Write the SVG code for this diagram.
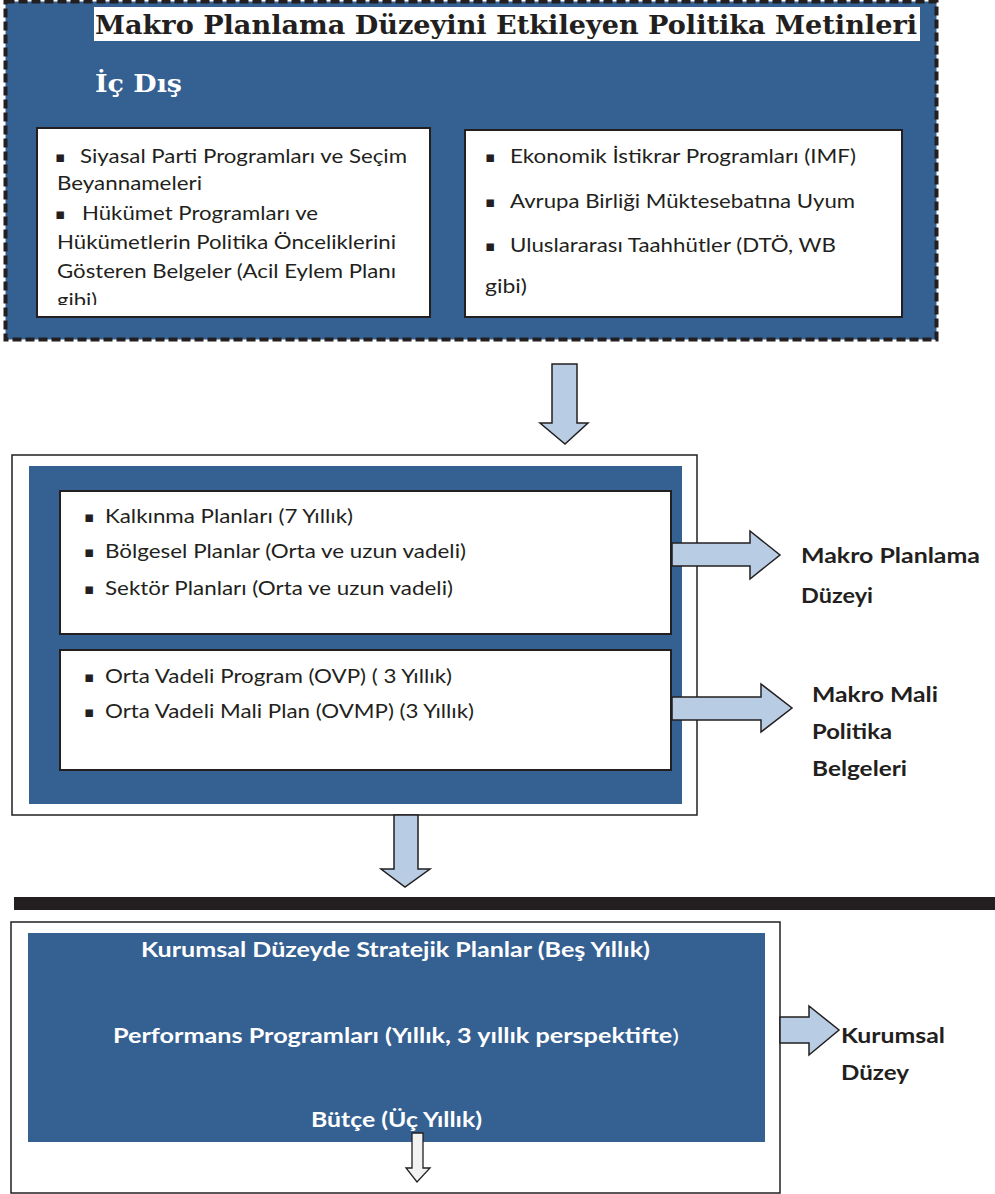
<svg xmlns="http://www.w3.org/2000/svg" width="995" height="1194" viewBox="0 0 995 1194">
<defs>
<style>
.blue{fill:#356092}
.wbox{fill:#ffffff;stroke:#231f20;stroke-width:2}
.obox{fill:#ffffff;stroke:#231f20;stroke-width:1.5}
.arr{fill:#b8cce4;stroke:#231f20;stroke-width:1.5;stroke-linejoin:miter}
.arrw{fill:#f2f2f2;stroke:#231f20;stroke-width:1.3}
.t{font-family:Lato,"Open Sans","Liberation Sans",sans-serif;font-size:20px;fill:#231f20}
.tb{font-family:Lato,"Open Sans","Liberation Sans",sans-serif;font-size:21px;font-weight:bold;fill:#231f20}
.tw{font-family:Lato,"Open Sans","Liberation Sans",sans-serif;font-size:20px;font-weight:bold;fill:#ffffff}
.bul{font-family:"DejaVu Sans",sans-serif;font-size:15px;fill:#231f20}
.ser{font-family:"DejaVu Serif","Liberation Serif",serif;font-weight:bold}
</style>
<clipPath id="clipL"><rect x="38" y="129" width="391" height="176"/></clipPath>
</defs>

<g id="top-frame">
<rect x="5.5" y="1.5" width="931" height="338" class="blue" stroke="#231f20" stroke-width="4" stroke-dasharray="9 4"/>
<rect x="94" y="7" width="826" height="34" fill="#ffffff"/>
<text x="95" y="34" class="ser" font-size="26" fill="#231f20" textLength="822" lengthAdjust="spacingAndGlyphs">Makro Planlama Düzeyini Etkileyen Politika Metinleri</text>
<text x="95" y="92" class="ser" font-size="25" fill="#ffffff" textLength="87" lengthAdjust="spacingAndGlyphs">İç Dış</text>
</g>

<g id="ic-box">
<rect x="37" y="128" width="393" height="189" class="wbox"/>
<g clip-path="url(#clipL)">
<text x="55" y="162" class="bul">▪</text>
<text x="80" y="163" class="t" textLength="327" lengthAdjust="spacingAndGlyphs">Siyasal Parti Programları ve Seçim</text>
<text x="57" y="190" class="t" textLength="145" lengthAdjust="spacingAndGlyphs">Beyannameleri</text>
<text x="55" y="219" class="bul">▪</text>
<text x="82" y="220" class="t" textLength="236" lengthAdjust="spacingAndGlyphs">Hükümet Programları ve</text>
<text x="57" y="249" class="t" textLength="339" lengthAdjust="spacingAndGlyphs">Hükümetlerin Politika Önceliklerini</text>
<text x="57" y="278" class="t" textLength="339" lengthAdjust="spacingAndGlyphs">Gösteren Belgeler (Acil Eylem Planı</text>
<text x="57" y="307" class="t" textLength="40" lengthAdjust="spacingAndGlyphs">gibi)</text>
</g>
</g>

<g id="dis-box">
<rect x="465" y="130" width="437" height="187" class="wbox"/>
<text x="485" y="162" class="bul">▪</text>
<text x="510" y="163" class="t" textLength="346" lengthAdjust="spacingAndGlyphs">Ekonomik İstikrar Programları (IMF)</text>
<text x="485" y="207" class="bul">▪</text>
<text x="510" y="208" class="t" textLength="345" lengthAdjust="spacingAndGlyphs">Avrupa Birliği Müktesebatına Uyum</text>
<text x="485" y="251" class="bul">▪</text>
<text x="510" y="252" class="t" textLength="326" lengthAdjust="spacingAndGlyphs">Uluslararası Taahhütler (DTÖ, WB</text>
<text x="485" y="293" class="t" textLength="42" lengthAdjust="spacingAndGlyphs">gibi)</text>
</g>

<g id="makro-frame">
<rect x="12" y="455" width="685" height="360" class="obox"/>
<rect x="29" y="466" width="653" height="338" class="blue"/>
</g>

<g id="makro-planlama-box">
<rect x="60" y="491" width="611" height="143" class="wbox"/>
<text x="84" y="522" class="bul">▪</text>
<text x="105" y="523" class="t" textLength="248" lengthAdjust="spacingAndGlyphs">Kalkınma Planları (7 Yıllık)</text>
<text x="84" y="557" class="bul">▪</text>
<text x="105" y="558" class="t" textLength="361" lengthAdjust="spacingAndGlyphs">Bölgesel Planlar (Orta ve uzun vadeli)</text>
<text x="84" y="594" class="bul">▪</text>
<text x="105" y="595" class="t" textLength="348" lengthAdjust="spacingAndGlyphs">Sektör Planları (Orta ve uzun vadeli)</text>
</g>

<g id="makro-mali-box">
<rect x="60" y="650" width="611" height="120" class="wbox"/>
<text x="84" y="682" class="bul">▪</text>
<text x="105" y="683" class="t" textLength="347" lengthAdjust="spacingAndGlyphs">Orta Vadeli Program (OVP) ( 3 Yıllık)</text>
<text x="84" y="717" class="bul">▪</text>
<text x="105" y="718" class="t" textLength="369" lengthAdjust="spacingAndGlyphs">Orta Vadeli Mali Plan (OVMP) (3 Yıllık)</text>
</g>

<g id="label-makro-planlama">
<text x="801" y="563" class="tb" textLength="179" lengthAdjust="spacingAndGlyphs">Makro Planlama</text>
<text x="801" y="603" class="tb" textLength="72" lengthAdjust="spacingAndGlyphs">Düzeyi</text>
</g>

<g id="label-makro-mali">
<text x="812" y="702" class="tb" textLength="126" lengthAdjust="spacingAndGlyphs">Makro Mali</text>
<text x="812" y="739" class="tb" textLength="80" lengthAdjust="spacingAndGlyphs">Politika</text>
<text x="812" y="776" class="tb" textLength="95" lengthAdjust="spacingAndGlyphs">Belgeleri</text>
</g>

<rect id="separator" x="14" y="897" width="981" height="13" fill="#231f20"/>

<g id="kurumsal-frame">
<rect x="11" y="922" width="769" height="271" class="obox"/>
<rect x="28" y="933" width="737" height="209" class="blue"/>
<text x="141" y="957" class="tw" textLength="509" lengthAdjust="spacingAndGlyphs">Kurumsal Düzeyde Stratejik Planlar (Beş Yıllık)</text>
<text x="113" y="1043" class="tw" textLength="566" lengthAdjust="spacingAndGlyphs">Performans Programları (Yıllık, 3 yıllık perspektifte<tspan font-weight="normal">)</tspan></text>
<text x="311" y="1127" class="tw" textLength="171" lengthAdjust="spacingAndGlyphs">Bütçe (Üç Yıllık)</text>
</g>

<g id="label-kurumsal">
<text x="841" y="1043" class="tb" textLength="104" lengthAdjust="spacingAndGlyphs">Kurumsal</text>
<text x="841" y="1080" class="tb" textLength="68" lengthAdjust="spacingAndGlyphs">Düzey</text>
</g>

<g id="connectors">
<polygon class="arr" points="552,364 577,364 577,423 588,423 565,444 540,423 552,423"/>
<polygon class="arr" points="672,543 750,543 750,531 780,555 750,579 750,566 672,566"/>
<polygon class="arr" points="672,697 761,697 761,684 792,708 761,732 761,720 672,720"/>
<polygon class="arr" points="394,815 418,815 418,869 430,869 405,887 381,869 394,869"/>
<polygon class="arr" points="780,1017 809,1017 809,1006 839,1030 809,1055 809,1043 780,1043"/>
<polygon class="arrw" points="412,1133 423,1133 423,1168 430,1168 417,1182 406,1168 412,1168"/>
</g>
</svg>
